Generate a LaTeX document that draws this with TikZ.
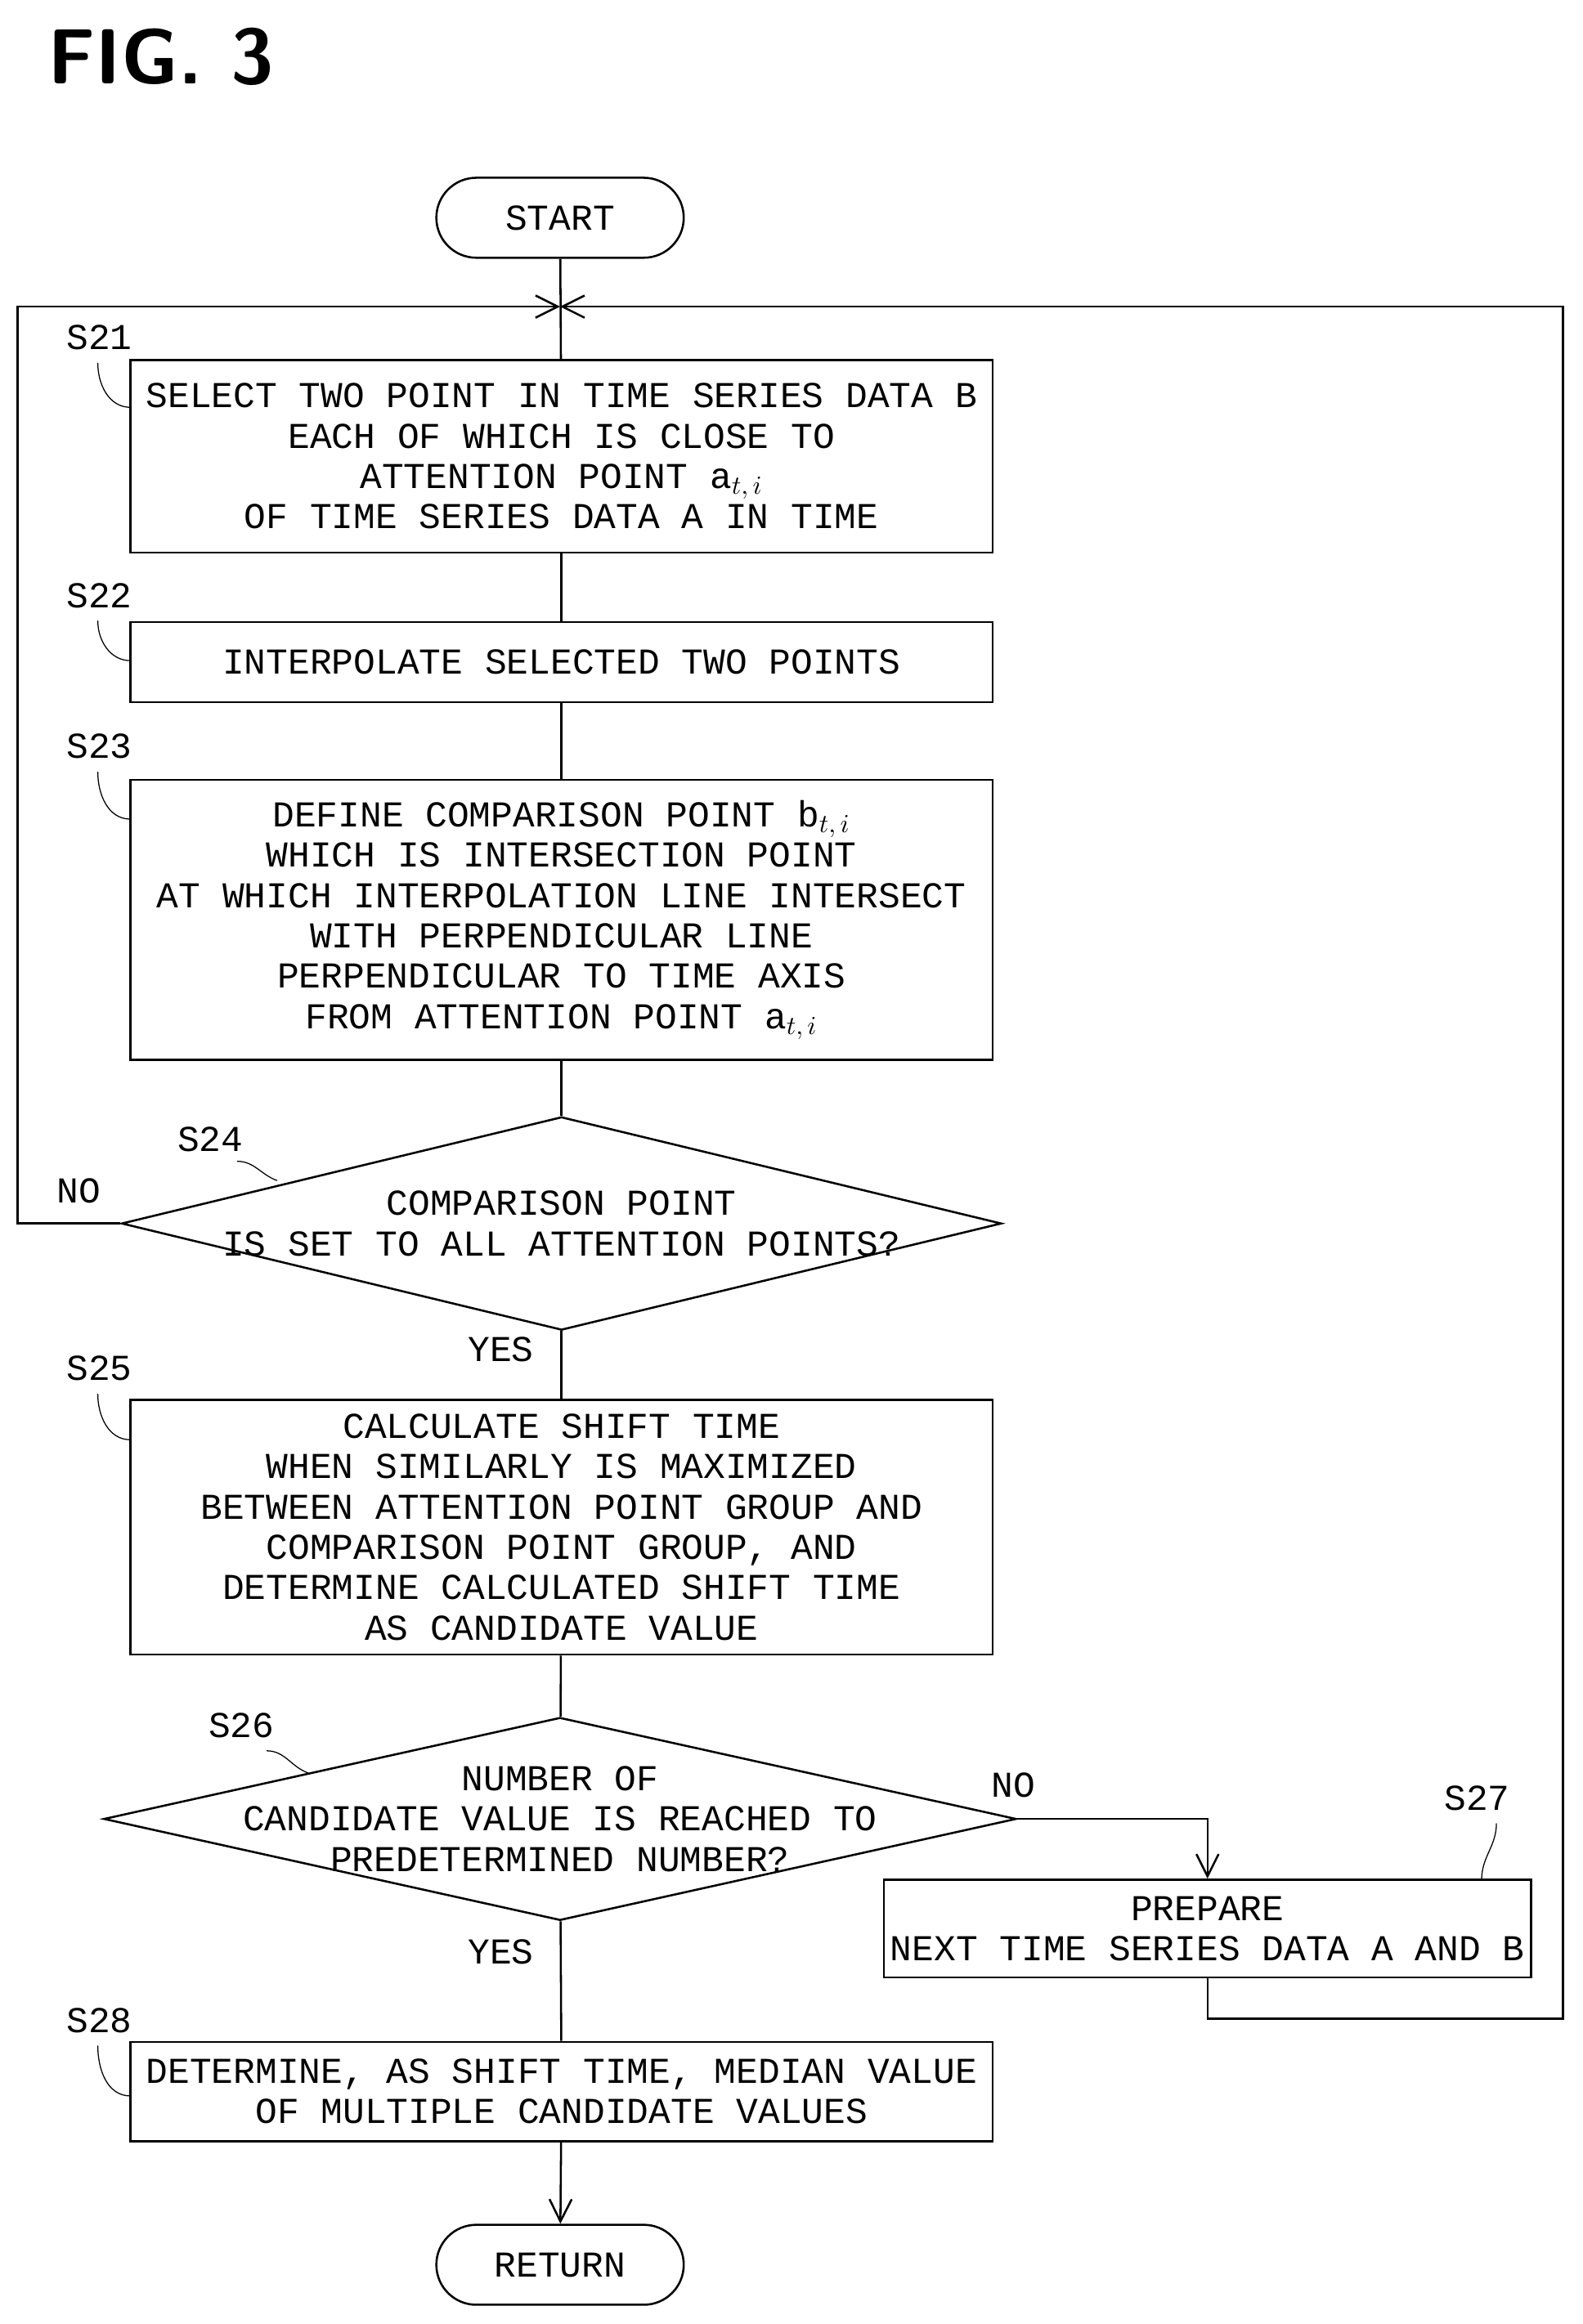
\documentclass[tikz,border=0pt]{standalone}
\usepackage{fontspec}
\setmainfont{Liberation Sans}
\setmonofont{Liberation Mono}
\usetikzlibrary{shapes.geometric, arrows.meta}
\usetikzlibrary{positioning}

\begin{document}
\begin{tikzpicture}[x=0.02cm, y=-0.02cm,
    every node/.style={font=\ttfamily\fontsize{14}{15.5}\selectfont, align=center, inner sep=0pt},
    proc/.style={draw, thick, minimum width=11.64cm},
    term/.style={draw, thick, rounded corners=0.54cm, minimum width=3.34cm, minimum height=1.08cm},
    test/.style={draw, thick, diamond, inner xsep=-4cm, inner ysep=-1.2cm},
    tag/.style={font=\ttfamily\fontsize{14}{15}\selectfont},
    flow/.style={thick},
    head/.style={thick, -{Straight Barb[length=3mm, width=3mm]}}]

    \useasboundingbox (0,0) rectangle (1068,1569);

    \node[font=\sffamily\bfseries\fontsize{30}{32}\selectfont, anchor=west] (fig) at (32,38) {FIG. 3};

    % terminals and steps
    \node[term] (start) at (378,147) {START};
    \node[proc, minimum height=2.6cm] (s21) at (379,308)
        {SELECT TWO POINT IN TIME SERIES DATA B\\EACH OF WHICH IS CLOSE TO\\ATTENTION POINT a$_{t,\,i}$\\OF TIME SERIES DATA A IN TIME};
    \node[proc, minimum height=1.08cm] (s22) at (379,447) {INTERPOLATE SELECTED TWO POINTS};
    \node[proc, minimum height=3.78cm] (s23) at (379,621)
        {DEFINE COMPARISON POINT b$_{t,\,i}$\\WHICH IS INTERSECTION POINT\\AT WHICH INTERPOLATION LINE INTERSECT\\WITH PERPENDICULAR LINE\\PERPENDICULAR TO TIME AXIS\\FROM ATTENTION POINT a$_{t,\,i}$};
    \node[test, minimum width=11.88cm, minimum height=2.88cm] (s24) at (379,826)
        {COMPARISON POINT\\IS SET TO ALL ATTENTION POINTS?};
    \node[proc, minimum height=3.44cm] (s25) at (379,1031)
        {CALCULATE SHIFT TIME\\WHEN SIMILARLY IS MAXIMIZED\\BETWEEN ATTENTION POINT GROUP AND\\COMPARISON POINT GROUP, AND\\DETERMINE CALCULATED SHIFT TIME\\AS CANDIDATE VALUE};
    \node[test, minimum width=12.32cm, minimum height=2.74cm] (s26) at (378,1228)
        {NUMBER OF\\CANDIDATE VALUE IS REACHED TO\\PREDETERMINED NUMBER?};
    \node[proc, minimum width=8.74cm, minimum height=1.32cm] (s27) at (815,1302)
        {PREPARE\\NEXT TIME SERIES DATA A AND B};
    \node[proc, minimum height=1.34cm] (s28) at (379,1412)
        {DETERMINE, AS SHIFT TIME, MEDIAN VALUE\\OF MULTIPLE CANDIDATE VALUES};
    \node[term] (ret) at (378,1529) {RETURN};

    % connectors
    \coordinate (merge) at (378,207);
    \coordinate (lt) at (12,207);
    \coordinate (rt) at (1055,207);
    \coordinate (rb) at (1055,1363);
    \draw[flow] (start) -- (s21);
    \draw[flow] (s21) -- (s22);
    \draw[flow] (s22) -- (s23);
    \draw[flow] (s23) -- (s24);
    \draw[flow] (s24) -- (s25);
    \draw[flow] (s25) -- (s26);
    \draw[flow] (s26) -- (s28);
    \draw[head] (s28) -- (ret);
    \draw[head] (s24.west) -| (lt) -- (merge);
    \draw[head] (s26.east) -| (s27.north);
    \draw[head] (s27.south) |- (rb) -- (rt) -- (merge);

    % branch labels
    \node[tag] (no24) at (53,804) {NO};
    \node[tag] (yes24) at (338,911) {YES};
    \node[tag] (no26) at (684,1205) {NO};
    \node[tag] (yes26) at (338,1318) {YES};

    % step labels
    \node[tag] (l21) at (67,228) {S21};
    \node[tag] (l22) at (67,402) {S22};
    \node[tag] (l23) at (67,504) {S23};
    \node[tag] (l24) at (142,769) {S24};
    \node[tag] (l25) at (67,924) {S25};
    \node[tag] (l26) at (163,1165) {S26};
    \node[tag] (l27) at (997,1214) {S27};
    \node[tag] (l28) at (67,1364) {S28};
    \draw (66,245) to[out=-90, in=180] (88,275);
    \draw (66,419) to[out=-90, in=180] (88,446);
    \draw (66,521) to[out=-90, in=180] (88,553);
    \draw (160,784) to[out=0, in=160] (187,797);
    \draw (66,941) to[out=-90, in=180] (88,972);
    \draw (180,1182) to[out=0, in=160] (208,1197);
    \draw (1010,1231) to[out=-90, in=90] (1000,1269);
    \draw (66,1381) to[out=-90, in=180] (88,1415);
\end{tikzpicture}
\end{document}
